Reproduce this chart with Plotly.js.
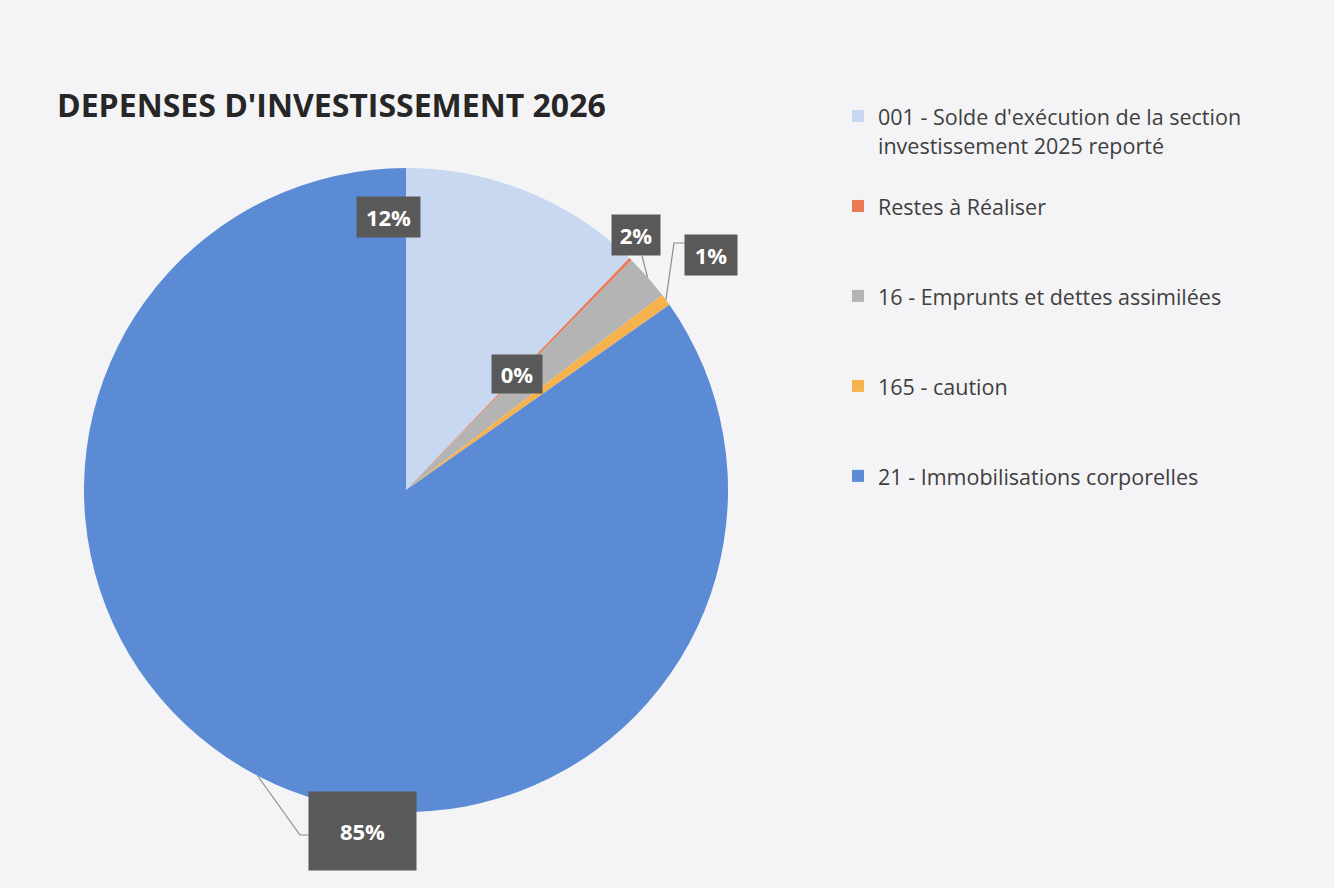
<!DOCTYPE html>
<html>
<head>
<meta charset="utf-8">
<script src="https://cdn.plot.ly/plotly-3.0.1.min.js"></script>
<style>html,body{margin:0;padding:0;background:#f4f4f6;}</style>
</head>
<body>
<div id="chart" style="width:1334px;height:888px;"></div>
<script>
// ---- data ----
const categories = [
  "001 - Solde d'exécution de la section<br>investissement 2025 reporté",
  "Restes à Réaliser",
  "16 - Emprunts et dettes assimilées",
  "165 - caution",
  "21 - Immobilisations corporelles"
];
const values = [12.2, 0.15, 2.3, 0.6, 84.75];
const colors = ['#c8d8f0', '#ea7a55', '#b4b4b4', '#f6b24c', '#5b8bd5'];
const chartTitle = "DEPENSES D'INVESTISSEMENT 2026";

// ---- layout constants ----
const W = 1334, H = 888;
const dom = {x: [84 / W, 728 / W], y: [1 - 812 / H, 1 - 168 / H]};
const FONT = '"Open Sans", "Noto Sans", sans-serif';

const total = values.reduce((a, b) => a + b, 0);
const pctText = values.map(v => Math.round(v / total * 100) + '%');

// legend labels: visible text size set by span, padded with blank lines for spacing
const legendLabels = categories.map((c, i) => {
  const lines = c.split('<br>');
  const styled = lines.map(l => '<span style="font-size:21.5px">' + l + '</span>').join('<br>');
  let pad = '';
  for (let k = lines.length; k < 3; k++) pad += '<br> ';
  return styled + pad;
});

// geometry of the pie, from its domain
const cx = (dom.x[0] + dom.x[1]) / 2 * W;
const cy = (1 - (dom.y[0] + dom.y[1]) / 2) * H;
const R = Math.min((dom.x[1] - dom.x[0]) * W, (dom.y[1] - dom.y[0]) * H) / 2;
const cum = [];
values.reduce((acc, v, i) => { cum[i] = [acc, acc + v]; return acc + v; }, 0);
function midPoint(i, rs) {
  const frac = (cum[i][0] + cum[i][1]) / 2 / total;
  const a = frac * 2 * Math.PI;
  return [cx + R * rs * Math.sin(a), cy - R * rs * Math.cos(a)];
}
const px = x => x / W;
const py = y => 1 - y / H;
function pathPx(pts) {
  return pts.map((p, k) => (k ? 'L' : 'M') + px(p[0]).toFixed(5) + ',' + py(p[1]).toFixed(5)).join(' ');
}

// label boxes (positions/sizes are layout only)
const labelBoxes = [
  {i: 0, x: 388, y: 217, w: 63, h: 40},
  {i: 1, x: 517, y: 374, w: 50, h: 38},
  {i: 2, x: 636, y: 235, w: 48, h: 40},
  {i: 3, x: 711, y: 255, w: 52, h: 40},
  {i: 4, x: 362, y: 831, w: 107, h: 78}
];
const annotations = labelBoxes.map(b => ({
  xref: 'paper', yref: 'paper', x: px(b.x), y: py(b.y),
  xanchor: 'center', yanchor: 'middle',
  text: '<b>' + pctText[b.i] + '</b>',
  showarrow: false,
  font: {family: FONT, size: 22, color: '#ffffff'},
  bgcolor: '#595959', width: b.w, height: b.h, borderpad: 0, align: 'center', valign: 'middle'
}));

const e4 = midPoint(4, 1), e3 = midPoint(3, 1), e2 = midPoint(2, 1);
const shapes = [
  {type: 'path', xref: 'paper', yref: 'paper', path: pathPx([e4, [300, 835], [309, 835]]), line: {color: '#8c8c8c', width: 1.2}},
  {type: 'path', xref: 'paper', yref: 'paper', path: pathPx([e3, [674, 243], [685, 243]]), line: {color: '#8c8c8c', width: 1.2}},
  {type: 'path', xref: 'paper', yref: 'paper', path: pathPx([e2, [642, 256]]), line: {color: '#8c8c8c', width: 1.2}}
];

const trace = {
  type: 'pie',
  labels: legendLabels,
  values: values,
  sort: false,
  direction: 'clockwise',
  rotation: 0,
  textinfo: 'none',
  hoverinfo: 'label+percent',
  marker: {colors: colors, line: {width: 0}},
  domain: dom
};

const layout = {
  width: W, height: H,
  margin: {l: 0, r: 0, t: 0, b: 0},
  paper_bgcolor: '#f4f4f6',
  title: {
    text: '<b>' + chartTitle + '</b>',
    x: 57 / W, xanchor: 'left', xref: 'paper',
    y: 1 - 106 / H, yanchor: 'middle', yref: 'paper',
    font: {family: FONT, size: 32, color: '#262626'}
  },
  showlegend: true,
  legend: {
    x: 838 / W, xanchor: 'left',
    y: 1 - 95 / H, yanchor: 'top',
    valign: 'top',
    bgcolor: 'rgba(0,0,0,0)',
    font: {family: FONT, size: 22.3, color: '#404040'}
  },
  annotations: annotations,
  shapes: shapes
};

Plotly.newPlot('chart', [trace], layout, {displayModeBar: false, staticPlot: true});
</script>
</body>
</html>
